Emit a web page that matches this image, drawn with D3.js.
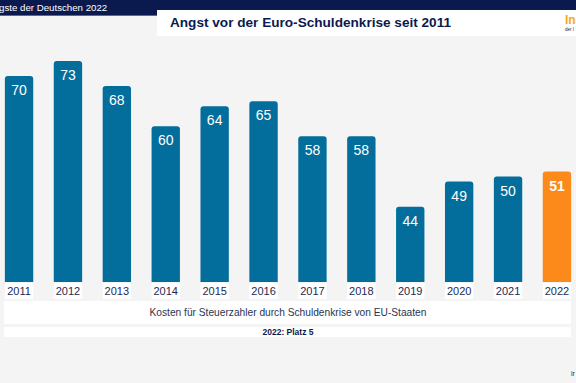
<!DOCTYPE html>
<html><head><meta charset="utf-8">
<script src="https://cdn.jsdelivr.net/npm/d3@7"></script>
<style>
html,body{margin:0;padding:0;background:#f4f4f4;}
svg{display:block;font-family:"Liberation Sans",Arial,sans-serif;}
</style></head>
<body>
<svg id="c" width="576" height="383"></svg>
<script>
const years = ["2011","2012","2013","2014","2015","2016","2017","2018","2019","2020","2021","2022"];
const values = [70,73,68,60,64,65,58,58,44,49,50,51];
const highlight = ["2022"];
const title = "Angst vor der Euro-Schuldenkrise seit 2011";
const header = "gste der Deutschen 2022";
const caption = "Kosten für Steuerzahler durch Schuldenkrise von EU-Staaten";
const rank = "2022: Platz 5";

const svg = d3.select("#c");
const navy = "#0b1a4e", blue = "#036e9b", orange = "#fb8a1a";

svg.append("rect").attr("width",576).attr("height",383).attr("fill","#f4f4f4");
// header band
svg.append("rect").attr("x",0).attr("y",0).attr("width",576).attr("height",15).attr("fill",navy);
svg.append("rect").attr("x",0).attr("y",15).attr("width",576).attr("height",1).attr("fill","#5a6a8f");
svg.append("text").attr("x",-1).attr("y",11).attr("fill","#fff").attr("font-size",9.7).text(header);
// title box
svg.append("rect").attr("x",157).attr("y",10).attr("width",419).attr("height",26).attr("fill","#fff");
svg.append("text").attr("x",170).attr("y",27).attr("fill",navy).attr("font-size",13.6).attr("font-weight","bold").text(title);
svg.append("text").attr("x",565).attr("y",24).attr("fill","#f7a823").attr("font-size",12).attr("font-weight","bold").text("In");
svg.append("text").attr("x",565).attr("y",31).attr("fill",navy).attr("font-size",4.5).text("der I");

const x = d3.scaleBand().domain(years).range([-5.4,581.4]).paddingInner(0.42).paddingOuter(0.21);
const y = d3.scaleLinear().domain([29,73]).range([282,61]);
const bw = x.bandwidth();
const r = 3;

const g = svg.append("g");
years.forEach((yr,i)=>{
  const v = values[i];
  const x0 = x(yr), y0 = y(v), h = y(29)-y0;
  const p = `M${x0},${y0+h} L${x0},${y0+r} Q${x0},${y0} ${x0+r},${y0} L${x0+bw-r},${y0} Q${x0+bw},${y0} ${x0+bw},${y0+r} L${x0+bw},${y0+h} Z`;
  const hl = highlight.includes(yr);
  g.append("path").attr("d",p).attr("fill", hl?orange:blue);
  g.append("text").attr("x",x0+bw/2).attr("y",y0+19).attr("text-anchor","middle")
    .attr("fill","#fff").attr("font-size",14).attr("font-weight",hl?"bold":"normal").text(v);
  g.append("rect").attr("x",x0).attr("y",283).attr("width",bw).attr("height",16).attr("fill","#fff");
  g.append("text").attr("x",x0+bw/2).attr("y",295).attr("text-anchor","middle")
    .attr("fill","#1c2a52").attr("font-size",11).text(yr);
});

svg.append("rect").attr("x",4).attr("y",301).attr("width",567).attr("height",23).attr("fill","#fff");
svg.append("text").attr("x",288).attr("y",316).attr("text-anchor","middle").attr("fill","#2a3550").attr("font-size",10.2).text(caption);
svg.append("rect").attr("x",4).attr("y",327).attr("width",567).attr("height",10).attr("fill","#fff");
svg.append("text").attr("x",288).attr("y",335).attr("text-anchor","middle").attr("fill","#0b1a4e").attr("font-size",8.5).attr("font-weight","bold").text(rank);
svg.append("text").attr("x",571).attr("y",376).attr("fill","#1c2a52").attr("font-size",7).text("ir");
</script>
</body></html>
